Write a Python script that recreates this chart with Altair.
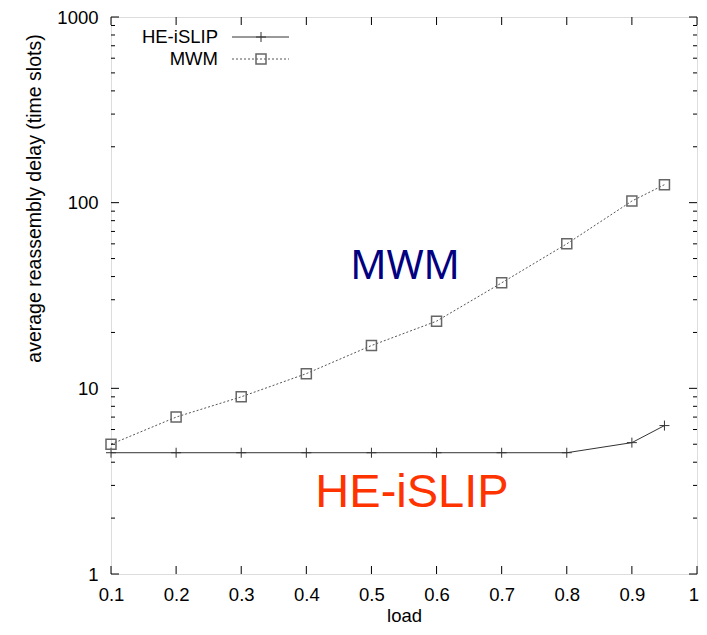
import altair as alt
import pandas as pd

# ---- data ----
loads = [0.1, 0.2, 0.3, 0.4, 0.5, 0.6, 0.7, 0.8, 0.9, 0.95]
he_islip = [4.5, 4.5, 4.5, 4.5, 4.5, 4.5, 4.5, 4.5, 5.1, 6.3]
mwm = [5.0, 7.0, 9.0, 12.0, 17.0, 23.0, 37.0, 60.0, 102.0, 125.0]

x_ticks = [0.1, 0.2, 0.3, 0.4, 0.5, 0.6, 0.7, 0.8, 0.9, 1.0]
y_ticks = [1, 10, 100, 1000]
y_minor = [2, 3, 4, 5, 6, 7, 8, 9, 20, 30, 40, 50, 60, 70, 80, 90,
           200, 300, 400, 500, 600, 700, 800, 900]
series_names = ["HE-iSLIP", "MWM"]

W, H = 586, 557
FONT = "Liberation Sans"
FS = 18.5

df_he = pd.DataFrame({"load": loads, "delay": he_islip})
df_mwm = pd.DataFrame({"load": loads, "delay": mwm})

xs = alt.Scale(domain=[0.1, 1.0], nice=False, zero=False)
ys = alt.Scale(type="log", domain=[1, 1000], nice=False)

x_axis = alt.Axis(values=x_ticks, format="~g", ticks=False, domain=False, grid=False,
                  labelFont=FONT, labelFontSize=FS, labelColor="black", labelPadding=11,
                  labelAlign={"expr": "datum.value >= 1 ? 'right' : 'center'"},
                  labelOffset={"expr": "datum.value >= 1 ? 1.5 : 0"},
                  title="load", titleFont=FONT, titleFontSize=FS, titleFontWeight="normal",
                  titleColor="black", titleY=47, titleBaseline="alphabetic",
                  labelFlush=False, labelOverlap=False)
y_axis = alt.Axis(values=y_ticks, format="d", ticks=False, domain=False, grid=False,
                  labelFont=FONT, labelFontSize=FS, labelColor="black", labelPadding=13,
                  title="average reassembly delay (time slots)", titleFont=FONT,
                  titleFontSize=19.5, titleFontWeight="normal", titleColor="black",
                  titleX=-77, titleY=181, titleAngle=270, titleBaseline="middle",
                  titleAlign="center", labelFlush=False, labelOverlap=False)

X = alt.X("load:Q", scale=xs, axis=x_axis)
Y = alt.Y("delay:Q", scale=ys, axis=y_axis)

plus_shape = "M-1,0L1,0M0,-1L0,1"
HE_COL = "#333333"
MWM_COL = "#555555"
SQ_COL = "#666666"

he_line = alt.Chart(df_he).mark_line(color=HE_COL, strokeWidth=1).encode(x=X, y=Y)
he_pts = alt.Chart(df_he).mark_point(shape=plus_shape, size=100, filled=False,
                                     color=HE_COL, strokeWidth=1, opacity=1).encode(x=X, y=Y)
mwm_line = alt.Chart(df_mwm).mark_line(color=MWM_COL, strokeWidth=1,
                                       strokeDash=[2, 2]).encode(x=X, y=Y)
mwm_pts = alt.Chart(df_mwm).mark_point(shape="square", size=100, filled=False,
                                       color=SQ_COL, strokeWidth=1.5, opacity=1).encode(x=X, y=Y)

# inward ticks (gnuplot style), all four sides
xt = pd.DataFrame({"load": x_ticks})
yt = pd.DataFrame({"delay": y_ticks})
ym = pd.DataFrame({"delay": y_minor})
tick_style = dict(color="black", strokeWidth=1)
xb = alt.Chart(xt).mark_rule(**tick_style).encode(x=X, y=alt.value(H), y2=alt.value(H - 8))
xtop = alt.Chart(xt).mark_rule(**tick_style).encode(x=X, y=alt.value(0), y2=alt.value(8))
yl = alt.Chart(yt).mark_rule(**tick_style).encode(y=Y, x=alt.value(0), x2=alt.value(8))
yr = alt.Chart(yt).mark_rule(**tick_style).encode(y=Y, x=alt.value(W - 8), x2=alt.value(W))
yml = alt.Chart(ym).mark_rule(**tick_style).encode(y=Y, x=alt.value(0), x2=alt.value(4))
ymr = alt.Chart(ym).mark_rule(**tick_style).encode(y=Y, x=alt.value(W - 4), x2=alt.value(W))

# legend (top-left: label, then line sample with marker)
leg = pd.DataFrame({"label": series_names})
def only(name):
    return alt.Chart(leg).transform_filter(f"datum.label == '{name}'")

LX_TEXT, LX0, LX1, LXM = 107, 121, 178, 150
LY_HE, LY_MWM = 20, 42
leg_he_text = only("HE-iSLIP").mark_text(
    align="right", baseline="middle", font=FONT, fontSize=FS, color="black").encode(
    text="label:N", x=alt.value(LX_TEXT), y=alt.value(LY_HE))
leg_mwm_text = only("MWM").mark_text(
    align="right", baseline="middle", font=FONT, fontSize=FS, color="black").encode(
    text="label:N", x=alt.value(LX_TEXT), y=alt.value(LY_MWM))
leg_he_line = only("HE-iSLIP").mark_rule(color=HE_COL, strokeWidth=1).encode(
    x=alt.value(LX0), x2=alt.value(LX1), y=alt.value(LY_HE))
leg_he_pt = only("HE-iSLIP").mark_point(
    shape=plus_shape, size=100, filled=False, color=HE_COL, strokeWidth=1, opacity=1).encode(
    x=alt.value(LXM), y=alt.value(LY_HE))
leg_mwm_line = only("MWM").mark_rule(color=MWM_COL, strokeWidth=1, strokeDash=[2, 2]).encode(
    x=alt.value(LX0), x2=alt.value(LX1), y=alt.value(LY_MWM))
leg_mwm_pt = only("MWM").mark_point(
    shape="square", size=100, filled=False, color=SQ_COL, strokeWidth=1.5, opacity=1).encode(
    x=alt.value(LXM), y=alt.value(LY_MWM))

# big annotations
ann_mwm = only("MWM").mark_text(
    font="Noto Sans", fontSize=40, align="center", baseline="middle", color="#000080").encode(
    text="label:N", x=alt.value(294), y=alt.value(250))
ann_he = only("HE-iSLIP").mark_text(
    font=FONT, fontSize=47, align="center", baseline="middle", color="#ff3300").encode(
    text="label:N", x=alt.value(301), y=alt.value(476))

chart = alt.layer(
    he_line, mwm_line, he_pts, mwm_pts,
    xb, xtop, yl, yr, yml, ymr,
    leg_he_line, leg_mwm_line, leg_he_pt, leg_mwm_pt, leg_he_text, leg_mwm_text,
    ann_mwm, ann_he,
).properties(
    width=W, height=H,
    autosize=alt.AutoSizeParams(type="none"),
    padding={"left": 103, "top": 9, "right": 2, "bottom": 53},
).configure_view(
    stroke="black", strokeWidth=1.5
).configure(background="white")

chart.save("out.html", embed_options={"renderer": "svg", "actions": False})
